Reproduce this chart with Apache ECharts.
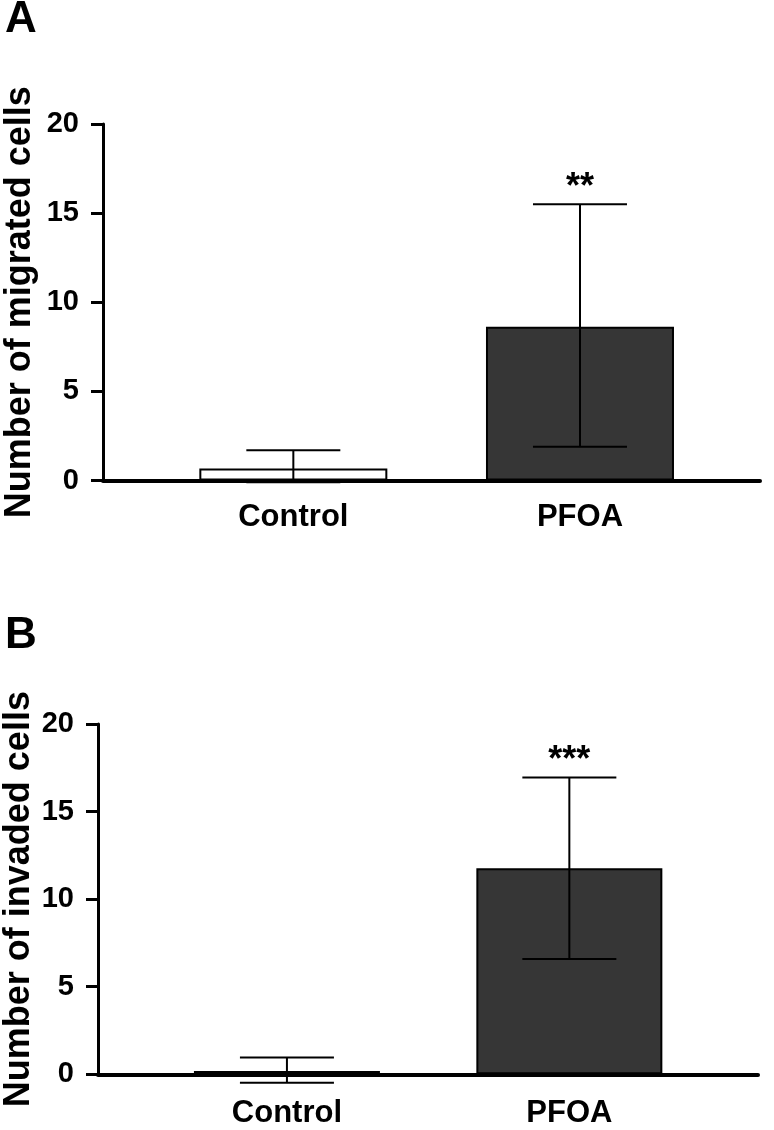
<!DOCTYPE html>
<html>
<head>
<meta charset="utf-8">
<script src="https://cdn.jsdelivr.net/npm/echarts@6/dist/echarts.min.js"></script>
<style>
  html, body { margin: 0; padding: 0; background: #fff; }
  #main { width: 774px; height: 1130px; }
</style>
</head>
<body>
<div id="main"></div>
<script>
// groups on the x axis
var categories = ['Control', 'PFOA'];
var yTicks = [0, 5, 10, 15, 20];

// panel A: migration
var migMean = [0.67, 8.63];
var migUpper = [1.70, 15.5];
var migLower = [-0.1, 1.9];
var migStars = ['', '**'];

// panel B: invasion
var invMean = [0.19, 11.77];
var invUpper = [0.96, 16.95];
var invLower = [-0.48, 6.59];
var invStars = ['', '***'];

var FONT = '"Liberation Sans", Arial, sans-serif';
var barColors = ['#ffffff', '#363636'];

function barData(mean) {
  return mean.map(function (v, i) {
    return { value: [i, v], itemStyle: { color: barColors[i] } };
  });
}

function errData(lower, upper, stars) {
  return lower.map(function (lo, i) { return [i, lo, upper[i], stars[i]]; });
}

var errSeriesStars = {};
errSeriesStars[2] = migStars;
errSeriesStars[3] = invStars;

function renderErr(params, api) {
  var x = api.value(0);
  var lo = api.coord([x, api.value(1)]);
  var hi = api.coord([x, api.value(2)]);
  var half = 47;
  var st = { stroke: '#000', lineWidth: 2 };
  var label = errSeriesStars[params.seriesIndex][params.dataIndex];
  return {
    type: 'group',
    children: [
      { type: 'line', shape: { x1: hi[0], y1: hi[1], x2: lo[0], y2: lo[1] }, style: st },
      { type: 'line', shape: { x1: hi[0] - half, y1: hi[1], x2: hi[0] + half, y2: hi[1] }, style: st },
      { type: 'line', shape: { x1: lo[0] - half, y1: lo[1], x2: lo[0] + half, y2: lo[1] }, style: st },
      { type: 'text', style: {
          text: label, x: hi[0], y: hi[1] + 2,
          align: 'center', verticalAlign: 'bottom',
          fontFamily: FONT, fontSize: 36, fontWeight: 'bold', fill: '#000'
        } }
    ]
  };
}

function xAxisFor(idx, min, max, margin) {
  return {
    type: 'value', gridIndex: idx, min: min, max: max,
    axisLine: { show: true, onZero: false, lineStyle: { color: '#000', width: 4 } },
    axisTick: { show: false },
    splitLine: { show: false },
    axisLabel: {
      customValues: [0, 1],
      formatter: function (v) { return categories[Math.round(v)]; },
      color: '#000', fontFamily: FONT, fontWeight: 'bold', fontSize: 31, margin: margin
    }
  };
}

function yAxisFor(idx, name, gap) {
  return {
    type: 'value', gridIndex: idx, min: 0, max: 20, interval: 5,
    name: name, nameLocation: 'middle', nameGap: gap, nameMoveOverlap: false,
    nameTextStyle: { color: '#000', fontFamily: FONT, fontWeight: 'bold', fontSize: 36 },
    axisLine: { show: true, onZero: false, lineStyle: { color: '#000', width: 3 } },
    axisTick: { show: true, length: 12, lineStyle: { color: '#000', width: 3 } },
    splitLine: { show: false },
    axisLabel: {
      customValues: yTicks,
      color: '#000', fontFamily: FONT, fontWeight: 'bold', fontSize: 29, margin: 24
    }
  };
}

var chart = echarts.init(document.getElementById('main'), null, { renderer: 'canvas' });
chart.setOption({
  backgroundColor: '#fff',
  animation: false,
  title: [
    { text: 'A', left: 0, top: -7, textStyle: { fontFamily: FONT, fontWeight: 'bold', fontSize: 44, color: '#000' } },
    { text: 'B', left: 0, top: 609, textStyle: { fontFamily: FONT, fontWeight: 'bold', fontSize: 44, color: '#000' } }
  ],
  grid: [
    { left: 103, right: 14, top: 124, bottom: 649.5, containLabel: false, outerBoundsMode: 'none' },
    { left: 98, right: 16, top: 724, bottom: 55.7, containLabel: false, outerBoundsMode: 'none' }
  ],
  xAxis: [
    xAxisFor(0, -0.664, 1.628, 21),
    xAxisFor(1, -0.669, 1.668, 24)
  ],
  yAxis: [
    yAxisFor(0, 'Number of migrated cells', 65),
    yAxisFor(1, 'Number of invaded cells', 61)
  ],
  series: [
    {
      type: 'bar', xAxisIndex: 0, yAxisIndex: 0, barWidth: 188,
      itemStyle: { borderColor: '#000', borderWidth: 2 },
      data: barData(migMean)
    },
    {
      type: 'bar', xAxisIndex: 1, yAxisIndex: 1, barWidth: 186,
      itemStyle: { borderColor: '#000', borderWidth: 2 },
      data: barData(invMean)
    },
    {
      type: 'custom', xAxisIndex: 0, yAxisIndex: 0, z: 5, clip: false,
      renderItem: renderErr, data: errData(migLower, migUpper, migStars)
    },
    {
      type: 'custom', xAxisIndex: 1, yAxisIndex: 1, z: 5, clip: false,
      renderItem: renderErr, data: errData(invLower, invUpper, invStars)
    }
  ]
});
</script>
</body>
</html>
